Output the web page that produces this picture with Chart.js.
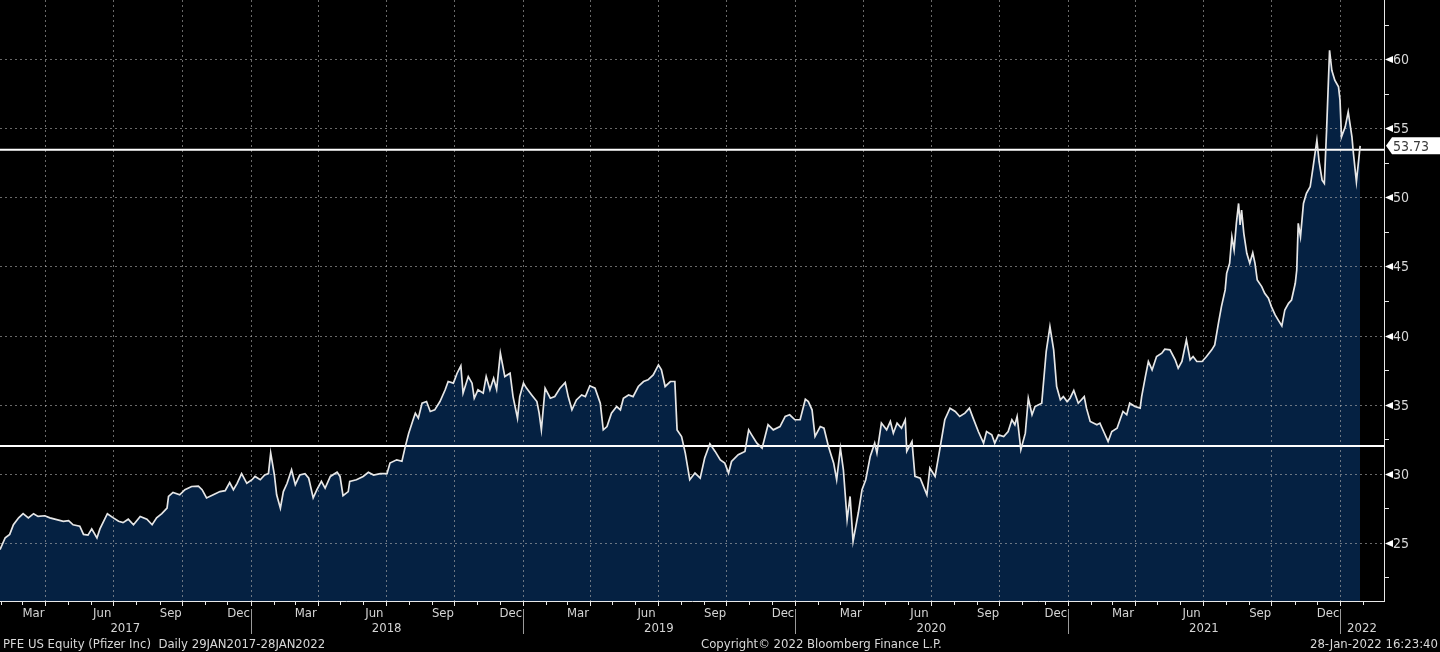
<!DOCTYPE html>
<html lang="en">
<head>
<meta charset="UTF-8" />
<title>PFE US Equity (Pfizer Inc)</title>
<script src="https://cdn.jsdelivr.net/npm/chart.js"></script>
<style>
  html, body { margin: 0; padding: 0; background: #000; }
  canvas { display: block; }
</style>
</head>
<body>
<canvas id="pfeChart" width="1440" height="652"></canvas>
<script>
// x values are days counted from 29 Jan 2017
const startUTC = Date.UTC(2017, 0, 29);

const d17 = [1,8,14,19,26,32,39,46,52,61,68,77,86,93,99,108,113,119,124,131,135,145,153,160,166,173,180,189,198,205,211,218,225,227,233,242,249,258,267,272,278,287,296,303,309,314,319,325,332];
const p17 = [24.5,25.36,25.6,26.3,26.8,27.1,26.8,27.1,26.9,26.95,26.8,26.67,26.55,26.6,26.3,26.2,25.6,25.55,26.0,25.34,26.0,27.1,26.8,26.55,26.45,26.7,26.3,26.9,26.7,26.3,26.8,27.1,27.5,28.35,28.64,28.47,28.84,29.07,29.1,28.84,28.24,28.47,28.7,28.77,29.36,28.84,29.3,30.0,29.3];

const d18 = [339,343,350,356,361,364,369,372,377,381,386,392,397,403,410,415,421,426,432,437,444,453,457,461,468,470,479,488,495,502,511,520,524,533,540,544,549,555,558,562,567,573,578,584,591,598,602,609,614,619,622,629,634,637,642,649,653,658,663,667,672,678,685,689,695,698];
const p18 = [29.56,29.8,29.56,29.9,30.0,31.5,29.9,28.47,27.5,28.7,29.3,30.28,29.2,29.9,30.0,29.67,28.24,28.84,29.44,28.95,29.8,30.1,29.8,28.4,28.7,29.44,29.56,29.8,30.1,29.9,30.0,30.0,30.77,31.0,30.9,31.85,32.9,33.9,34.38,34.02,35.1,35.22,34.5,34.62,35.22,36.07,36.67,36.55,37.27,37.8,35.83,37.03,36.55,35.46,36.07,35.83,37.03,36.07,36.91,36.11,38.72,37.03,37.27,35.58,34.02,35.58];

const d19 = [703,707,714,721,724,727,732,739,745,752,759,763,768,774,781,786,792,799,806,810,815,821,828,833,837,844,850,857,864,870,877,884,888,893,900,906,909,915,920,926,933,940,946,953,960,967,973,978,982,991,1000,1005,1009,1016,1023,1031,1038,1047,1054,1060];
const p19 = [36.55,36.19,35.7,35.22,34.38,33.17,36.19,35.46,35.58,36.19,36.6,35.58,34.62,35.34,35.7,35.58,36.36,36.19,35.1,33.17,33.41,34.38,34.86,34.62,35.46,35.7,35.58,36.31,36.67,36.79,37.15,37.87,37.51,36.31,36.67,36.67,33.17,32.69,31.49,29.56,30.04,29.68,31.13,32.16,31.61,31.0,30.76,30.04,30.88,31.37,31.61,33.17,32.81,32.21,31.85,33.54,33.17,33.41,34.14,34.26];

const d20 = [1067,1074,1081,1085,1090,1094,1101,1106,1112,1119,1123,1128,1132,1137,1141,1145,1152,1157,1162,1168,1174,1177,1183,1190,1195,1199,1204,1210,1215,1217,1224,1228,1235,1244,1248,1255,1262,1268,1275,1282,1288,1295,1301,1306,1313,1320,1324,1331,1335,1340,1347,1353,1358,1362,1365,1370,1376,1380,1385,1389,1398,1404,1409,1414,1418,1423,1427,1432];
const p20 = [33.9,33.9,35.39,35.22,34.62,32.69,33.41,33.29,31.97,30.76,29.56,31.85,30.28,26.67,28.35,25.1,27.15,28.84,29.56,31.25,32.21,31.49,33.66,33.17,33.78,32.93,33.66,33.29,33.9,31.61,32.33,29.8,29.68,28.47,30.4,29.8,31.97,33.9,34.74,34.5,34.14,34.38,34.74,34.02,33.05,32.21,33.05,32.81,32.21,32.81,32.69,33.05,33.9,33.54,34.14,31.73,32.93,35.46,34.26,34.86,35.1,38.84,40.65,38.96,36.31,35.34,35.58,35.22];

const d21 = [1436,1441,1447,1455,1458,1463,1472,1476,1481,1487,1492,1499,1503,1507,1512,1516,1523,1530,1532,1537,1541,1546,1552,1559,1563,1570,1577,1581,1586,1592,1597,1601,1606,1613,1619,1626,1630,1635,1639,1644,1646,1650,1653,1656,1659,1662,1664,1666,1669,1673,1677,1681,1684,1687,1693,1697,1702,1706,1711,1715,1720,1724,1729,1733,1738,1740,1742,1745,1749,1753,1758,1762,1767,1770,1774,1777,1780,1784,1787,1791,1796];
const p21 = [35.46,36.02,35.1,35.58,34.74,33.78,33.54,33.66,33.05,32.33,33.05,33.29,33.9,34.5,34.26,35.1,34.86,34.74,35.58,37.03,38.12,37.51,38.48,38.72,39.01,38.96,38.24,37.63,38.12,39.68,38.24,38.48,38.12,38.12,38.48,38.96,39.32,40.89,42.09,43.3,44.5,45.23,47.15,46.19,48.12,49.56,48.0,49.08,47.4,45.95,45.23,45.99,45.23,44.02,43.54,43.06,42.7,42.09,41.49,41.13,40.69,41.85,42.33,42.57,43.78,44.74,48.12,47.15,49.56,50.29,50.77,52.22,54.14,52.58,51.25,51.01,54.87,60.65,59.2,58.48,58.0];

const d22 = [1798,1800,1805,1809,1814,1816,1820,1825];
const p22 = [57.04,54.38,55.11,56.19,54.38,53.18,51.13,53.73];

const lastPrice = 53.73;
const lastLevel = 53.45;
const lowLevel = 32.0;

const yTicks = [25, 30, 35, 40, 45, 50, 55, 60];
const yMinor = [22.5, 27.5, 32.5, 37.5, 42.5, 47.5, 52.5, 57.5, 62.5];
const monthNames = ['Jan','Feb','Mar','Apr','May','Jun','Jul','Aug','Sep','Oct','Nov','Dec'];
const labelMonths = [2, 5, 8, 11];
const years = [2017, 2018, 2019, 2020, 2021, 2022];

const footerLeft = 'PFE US Equity (Pfizer Inc)  Daily 29JAN2017-28JAN2022';
const footerMid = 'Copyright\u00A9 2022 Bloomberg Finance L.P.';
const footerRight = '28-Jan-2022 16:23:40';

const xMin = 1, xMax = 1857;
const yMin = 20.78, yMax = 64.29;

const FONT = '"DejaVu Sans Condensed", "DejaVu Sans", sans-serif';

const dayOf = (y, m, d) => (Date.UTC(y, m, d) - startUTC) / 86400000;

const allDays = [].concat(d17, d18, d19, d20, d21, d22);
const allPrices = [].concat(p17, p18, p19, p20, p21, p22);
const pricePoints = allDays.map((d, i) => ({ x: d, y: allPrices[i] }));

function monthStarts(onlyQuarters) {
  const out = [];
  years.concat([2023]).forEach(yr => {
    for (let m = 0; m < 12; m++) {
      if (onlyQuarters && m % 3 !== 0) continue;
      const d = dayOf(yr, m, 1);
      if (d > xMin && d < xMax) out.push({ yr, m, d });
    }
  });
  return out;
}

const bbgFrame = {
  id: 'bbgFrame',
  afterDatasetDraw(chart, args) {
    // grid goes over the filled area but under the lines
    if (args.index !== 0) return;
    const { ctx, chartArea: a, scales: { x, y } } = chart;
    ctx.save();
    ctx.strokeStyle = 'rgba(175,175,175,0.6)';
    ctx.lineWidth = 1;
    ctx.setLineDash([2, 3]);
    ctx.beginPath();
    yTicks.forEach(v => {
      const py = Math.round(y.getPixelForValue(v)) + 0.5;
      ctx.moveTo(a.left, py);
      ctx.lineTo(a.right, py);
    });
    monthStarts(true).forEach(q => {
      const px = Math.round(x.getPixelForValue(q.d)) + 0.5;
      ctx.moveTo(px, a.top);
      ctx.lineTo(px, a.bottom);
    });
    ctx.stroke();
    ctx.restore();
  },
  afterDraw(chart) {
    const { ctx, chartArea: a, scales: { x, y } } = chart;
    ctx.save();

    // axis lines
    ctx.strokeStyle = '#e8e8e8';
    ctx.lineWidth = 1;
    ctx.beginPath();
    ctx.moveTo(a.left, a.bottom + 0.5);
    ctx.lineTo(a.right + 1, a.bottom + 0.5);
    ctx.moveTo(a.right + 0.5, a.top);
    ctx.lineTo(a.right + 0.5, a.bottom + 1);
    // month ticks
    monthStarts(false).forEach(ms => {
      const px = Math.round(x.getPixelForValue(ms.d)) + 0.5;
      ctx.moveTo(px, a.bottom);
      ctx.lineTo(px, a.bottom + (ms.m % 3 === 0 ? 5 : 4));
    });
    // minor y ticks
    yMinor.forEach(v => {
      const py = Math.round(y.getPixelForValue(v)) + 0.5;
      ctx.moveTo(a.right, py);
      ctx.lineTo(a.right + 5, py);
    });
    ctx.stroke();

    // month labels
    ctx.fillStyle = '#d4d4d4';
    ctx.font = '13px ' + FONT;
    ctx.textAlign = 'center';
    ctx.textBaseline = 'alphabetic';
    years.forEach(yr => {
      labelMonths.forEach(m => {
        const d = dayOf(yr, m, 16);
        if (d < xMin || d > xMax) return;
        ctx.fillText(monthNames[m], x.getPixelForValue(d), 617);
      });
    });

    // year separators and labels
    ctx.strokeStyle = '#9a9a9a';
    ctx.beginPath();
    years.forEach(yr => {
      const d = dayOf(yr, 0, 1);
      if (d <= xMin) return;
      const px = Math.round(x.getPixelForValue(d)) + 0.5;
      ctx.moveTo(px, 609);
      ctx.lineTo(px, 634);
    });
    ctx.stroke();
    years.forEach(yr => {
      const s = Math.max(xMin, dayOf(yr, 0, 1));
      const e = Math.min(xMax, dayOf(yr + 1, 0, 1));
      const cx = (x.getPixelForValue(s) + x.getPixelForValue(e)) / 2;
      ctx.fillText(String(yr), cx, 632);
    });

    // right axis: pointers and labels
    ctx.font = '14px ' + FONT;
    ctx.textAlign = 'left';
    ctx.textBaseline = 'middle';
    yTicks.forEach(v => {
      const py = Math.round(y.getPixelForValue(v)) + 0.5;
      ctx.fillStyle = '#ffffff';
      ctx.beginPath();
      ctx.moveTo(a.right + 1, py);
      ctx.lineTo(a.right + 9, py - 3.5);
      ctx.lineTo(a.right + 9, py + 3.5);
      ctx.closePath();
      ctx.fill();
      ctx.fillStyle = '#d8d8d8';
      ctx.fillText(String(v), a.right + 9, py + 1);
    });

    // last price tag
    const ly = y.getPixelForValue(lastPrice);
    ctx.fillStyle = '#ffffff';
    ctx.beginPath();
    ctx.moveTo(a.right + 2, ly);
    ctx.lineTo(a.right + 8, ly - 8.5);
    ctx.lineTo(chart.width, ly - 8.5);
    ctx.lineTo(chart.width, ly + 8.5);
    ctx.lineTo(a.right + 8, ly + 8.5);
    ctx.closePath();
    ctx.fill();
    ctx.fillStyle = '#3a3a3a';
    ctx.fillText(lastPrice.toFixed(2), a.right + 9, ly + 1);

    // footer
    ctx.font = '13px ' + FONT;
    ctx.fillStyle = '#d8d8d8';
    ctx.textBaseline = 'alphabetic';
    ctx.textAlign = 'left';
    ctx.fillText(footerLeft, 3, 648);
    ctx.fillText(footerMid, 701, 648);
    ctx.textAlign = 'right';
    ctx.fillText(footerRight, chart.width - 2, 648);

    ctx.restore();
  }
};

const levelLine = v => [{ x: xMin, y: v }, { x: xMax, y: v }];

new Chart(document.getElementById('pfeChart'), {
  type: 'line',
  data: {
    datasets: [
      {
        data: pricePoints,
        borderWidth: 0,
        borderColor: 'rgba(0,0,0,0)',
        backgroundColor: '#052142',
        fill: 'start',
        pointRadius: 0,
        order: 5
      },
      {
        data: levelLine(lowLevel),
        borderColor: '#ffffff',
        borderWidth: 2,
        pointRadius: 0,
        fill: false,
        order: 2
      },
      {
        data: levelLine(lastLevel),
        borderColor: '#ffffff',
        borderWidth: 2,
        pointRadius: 0,
        fill: false,
        order: 2
      },
      {
        data: pricePoints,
        borderColor: '#e6e6e6',
        borderWidth: 1.7,
        pointRadius: 0,
        fill: false,
        order: 1
      }
    ]
  },
  options: {
    responsive: false,
    animation: false,
    devicePixelRatio: 1,
    layout: { padding: { left: 0, top: 0, right: 56, bottom: 51 } },
    plugins: {
      legend: { display: false },
      tooltip: { enabled: false }
    },
    scales: {
      x: { type: 'linear', min: xMin, max: xMax, display: false },
      y: { type: 'linear', min: yMin, max: yMax, display: false }
    }
  },
  plugins: [bbgFrame]
});
</script>
</body>
</html>
